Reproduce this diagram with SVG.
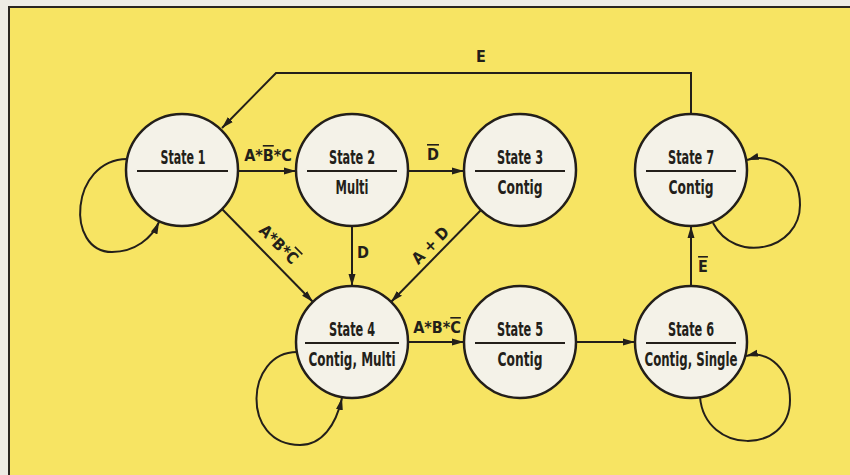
<svg xmlns="http://www.w3.org/2000/svg" width="850" height="475" viewBox="0 0 850 475">
<defs>
<marker id="ah" viewBox="0 0 12 8" refX="12" refY="4" markerWidth="12" markerHeight="8" markerUnits="userSpaceOnUse" orient="auto">
<path d="M0,0.5 L12,4 L0,7.5 z" fill="#231f1a"/>
</marker>
<style>
.st{fill:#f4f2e8;stroke:#231f1a;stroke-width:2.5}
.sep{stroke:#231f1a;stroke-width:2}
.c{fill:none;stroke:#231f1a;stroke-width:2;marker-end:url(#ah)}
.t{font-family:"Liberation Sans Narrow","DejaVu Sans Condensed","Liberation Sans",sans-serif;font-weight:bold;font-size:20px;fill:#231f1a;text-anchor:middle}
.l{font-family:"Liberation Sans Narrow","DejaVu Sans Condensed","Liberation Sans",sans-serif;font-weight:bold;font-size:16px;fill:#231f1a;text-anchor:middle}
.ob{text-decoration:overline}
</style>
</defs>
<rect x="0" y="0" width="850" height="475" fill="#eeece4"/>
<rect x="9" y="7" width="841" height="468" fill="#f7e463"/>
<path d="M9,475 L9,7 L850,7" fill="none" stroke="#2a2620" stroke-width="2"/>

<g id="connectors">
<path class="c" d="M238,171 L296,171"/>
<path class="c" d="M408,171 L464,171"/>
<path class="c" d="M352,226 L352,286"/>
<path class="c" d="M222,209 L313,302"/>
<path class="c" d="M481,210 L391,302"/>
<path class="c" d="M408,342 L464,342"/>
<path class="c" d="M576,342 L635,342"/>
<path class="c" d="M691,286 L691,226"/>
<path class="c" d="M691,114 L691,73 L276,73 L222,128"/>
<path class="c" d="M127,159 C70,160 65,252 112,252 C135,252 152,238 159,222"/>
<path class="c" d="M297,352 C245,352 240,445 300,445 C322,445 336,425 342,398"/>
<path class="c" d="M713,223 C735,265 800,250 800,205 C800,170 772,152 747,160"/>
<path class="c" d="M700,397 C705,455 790,455 790,400 C790,370 770,350 746,356"/>
<text class="l" x="268" y="161">A*<tspan class="ob">B</tspan>*C</text>
<text class="l" x="433" y="160"><tspan class="ob">D</tspan></text>
<text class="l" x="363" y="258">D</text>
<text class="l" transform="translate(279,244) rotate(45)" x="0" y="6">A*B*<tspan class="ob">C</tspan></text>
<text class="l" transform="translate(430,245) rotate(-45)" x="0" y="6">A + D</text>
<text class="l" x="437" y="333">A*B*<tspan class="ob">C</tspan></text>
<text class="l" x="481" y="62">E</text>
<text class="l" x="703" y="272"><tspan class="ob">E</tspan></text>
</g>

<g id="state1">
<circle class="st" cx="182" cy="170" r="56"/>
<line class="sep" x1="137" y1="171" x2="228" y2="171"/>
<text class="t" x="183" y="164" textLength="45" lengthAdjust="spacingAndGlyphs">State 1</text>
</g>
<g id="state2">
<circle class="st" cx="352" cy="170" r="56"/>
<line class="sep" x1="307" y1="171" x2="397" y2="171"/>
<text class="t" x="352" y="164" textLength="46" lengthAdjust="spacingAndGlyphs">State 2</text>
<text class="t" x="352" y="194" textLength="33" lengthAdjust="spacingAndGlyphs">Multi</text>
</g>
<g id="state3">
<circle class="st" cx="520" cy="170" r="56"/>
<line class="sep" x1="475" y1="171" x2="565" y2="171"/>
<text class="t" x="520" y="164" textLength="46" lengthAdjust="spacingAndGlyphs">State 3</text>
<text class="t" x="520" y="194" textLength="45" lengthAdjust="spacingAndGlyphs">Contig</text>
</g>
<g id="state7">
<circle class="st" cx="691" cy="170" r="56"/>
<line class="sep" x1="646" y1="171" x2="736" y2="171"/>
<text class="t" x="691" y="164" textLength="46" lengthAdjust="spacingAndGlyphs">State 7</text>
<text class="t" x="691" y="194" textLength="45" lengthAdjust="spacingAndGlyphs">Contig</text>
</g>
<g id="state4">
<circle class="st" cx="352" cy="342" r="56"/>
<line class="sep" x1="305" y1="343" x2="399" y2="343"/>
<text class="t" x="352" y="336" textLength="46" lengthAdjust="spacingAndGlyphs">State 4</text>
<text class="t" x="352" y="366" textLength="87" lengthAdjust="spacingAndGlyphs">Contig, Multi</text>
</g>
<g id="state5">
<circle class="st" cx="520" cy="342" r="56"/>
<line class="sep" x1="475" y1="343" x2="565" y2="343"/>
<text class="t" x="520" y="336" textLength="46" lengthAdjust="spacingAndGlyphs">State 5</text>
<text class="t" x="520" y="366" textLength="45" lengthAdjust="spacingAndGlyphs">Contig</text>
</g>
<g id="state6">
<circle class="st" cx="691" cy="342" r="56"/>
<line class="sep" x1="646" y1="343" x2="736" y2="343"/>
<text class="t" x="691" y="336" textLength="46" lengthAdjust="spacingAndGlyphs">State 6</text>
<text class="t" x="691" y="366" textLength="93" lengthAdjust="spacingAndGlyphs">Contig, Single</text>
</g>
</svg>
